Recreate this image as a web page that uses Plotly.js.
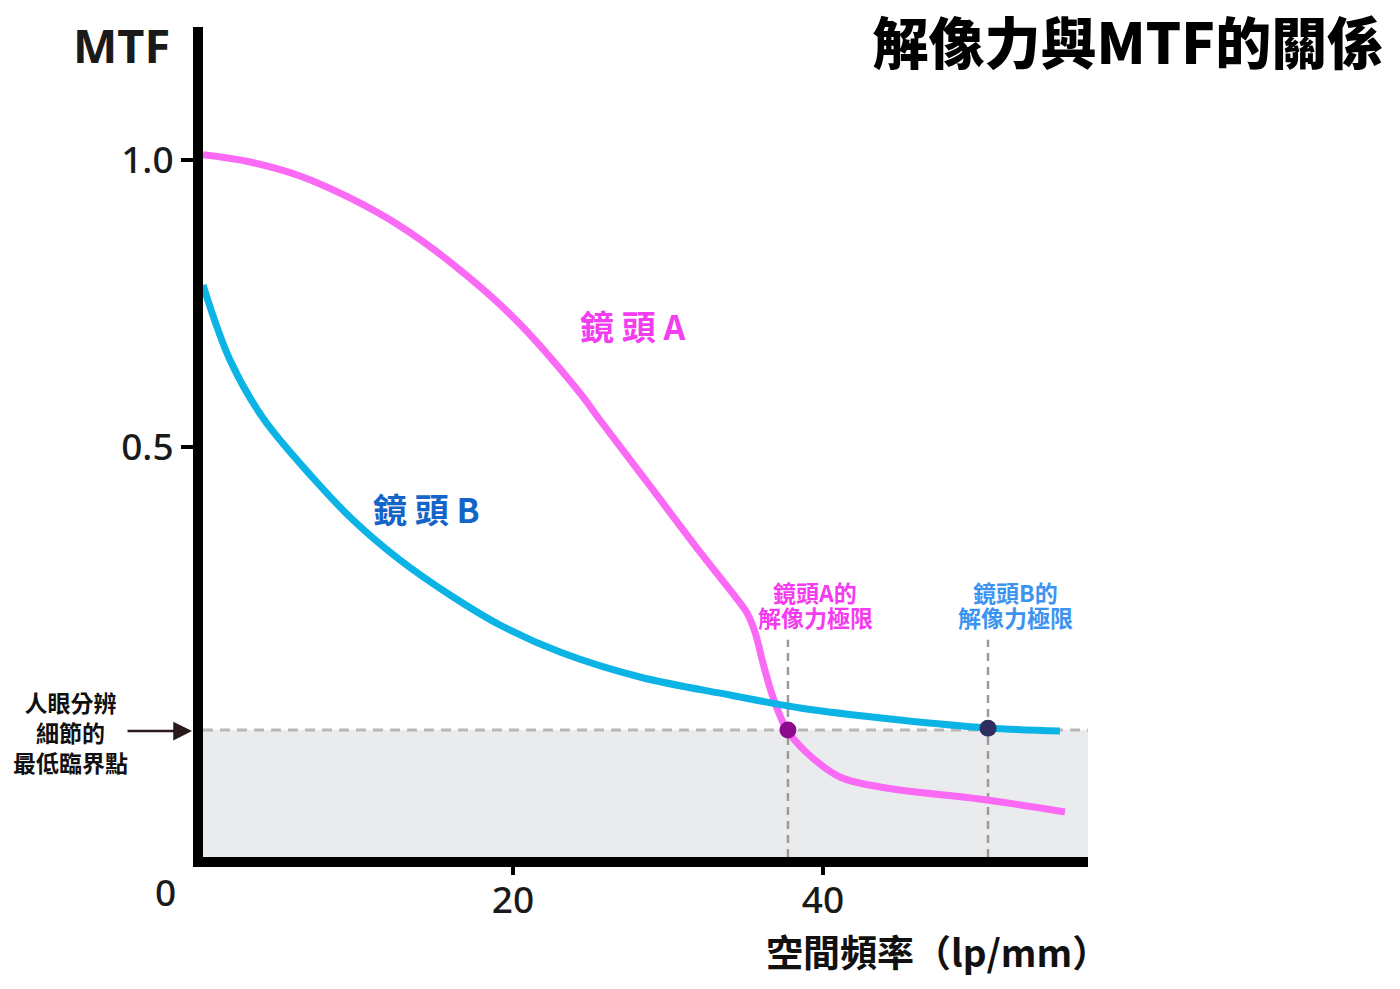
<!DOCTYPE html>
<html>
<head>
<meta charset="utf-8">
<script src="https://cdn.plot.ly/plotly-3.0.1.min.js"></script>
<style>
  body { margin: 0; background: #fff; }
  #chart { width: 1400px; height: 989px; }
</style>
</head>
<body>
<div id="chart"></div>
<script>
// values
const lensAFreq = [0, 3.03, 6.26, 9.48, 12.71, 15.94, 20.0, 24.32, 25.61, 28.84, 32.06, 34.0, 35.1, 35.61, 36.13, 36.77, 37.68, 38.97, 41.1, 43.68, 50.58, 55.61];
const lensAMtf = [1.009, 0.9965, 0.9721, 0.9338, 0.885, 0.8223, 0.7265, 0.5941, 0.547, 0.4321, 0.3171, 0.2509, 0.2108, 0.1777, 0.1237, 0.0645, 0.007, -0.0331, -0.0749, -0.0923, -0.115, -0.1359];

const lensBFreq = [0, 1.74, 3.87, 7.10, 9.68, 12.71, 15.94, 19.16, 23.03, 28.19, 34.0, 38.52, 44.97, 50.65, 55.29];
const lensBMtf = [0.7822, 0.6516, 0.5505, 0.446, 0.3728, 0.3031, 0.2422, 0.1899, 0.1429, 0.0993, 0.0679, 0.0453, 0.0244, 0.0105, 0.0052];

const threshold = 0.007;
const limitFreq = [37.74, 50.65];   // lens A, lens B
const limitTop = 0.164;

const xTicks = [20, 40];
const yTicks = [0.5, 1.0];
const yTickText = ["0.5", "1.0"];

const xRange = [0, 57.1];
const yRange = [-0.2143, 1.2317];

const cjk = "Noto Sans CJK TC, Noto Sans, sans-serif";
const num = "Noto Sans, Noto Sans CJK TC, sans-serif";

const traces = [
  {
    x: lensAFreq, y: lensAMtf,
    mode: "lines", type: "scatter",
    line: { color: "#fa6af5", width: 7, shape: "spline", smoothing: 1 },
    hoverinfo: "skip",
  },
  {
    x: lensBFreq, y: lensBMtf,
    mode: "lines", type: "scatter",
    line: { color: "#0cb4e6", width: 7, shape: "spline", smoothing: 1 },
    hoverinfo: "skip",
  },
  {
    x: limitFreq, y: [threshold, threshold + 0.003],
    mode: "markers", type: "scatter",
    marker: { size: 17, color: ["#8c0a8e", "#2e2f60"] },
    hoverinfo: "skip",
  },
];

const shapes = [
  // grey area under the threshold
  {
    type: "rect", xref: "paper", yref: "y", layer: "below",
    x0: 0, x1: 1, y0: yRange[0], y1: threshold,
    fillcolor: "#e9ebec", line: { width: 0 },
  },
  // threshold line
  {
    type: "line", xref: "paper", yref: "y", layer: "below",
    x0: 0, x1: 1, y0: threshold, y1: threshold,
    line: { color: "#b8b8b8", width: 3, dash: "10px,7px" },
  },
];
limitFreq.forEach((f) => {
  shapes.push({
    type: "line", xref: "x", yref: "y", layer: "below",
    x0: f, x1: f, y0: yRange[0], y1: limitTop,
    line: { color: "#9b9b9b", width: 2.5, dash: "8px,6px" },
  });
});

function label(text, x, y, size, color, yanchor) {
  return {
    text: text, xref: "x", yref: "y", x: x, y: y,
    xanchor: "center", yanchor: yanchor || "middle", showarrow: false,
    font: { family: cjk, size: size, color: color, weight: "bold" },
  };
}

const annotations = [
  {
    text: "MTF", xref: "paper", yref: "paper", x: 0, y: 0.978,
    xanchor: "right", yanchor: "middle", xshift: -31, showarrow: false,
    font: { family: num, size: 47, color: "#1a1a1a", weight: "bold" },
  },
  {
    text: "0", xref: "paper", yref: "paper", x: -0.0429, y: -0.0434,
    xanchor: "center", yanchor: "middle", yshift: 2, showarrow: false,
    font: { family: num, size: 37, color: "#1a1a1a", weight: 500 },
  },
  {
    text: "空間頻率（lp/mm）", xref: "paper", yref: "paper", x: 1, y: -0.1169,
    xanchor: "right", yanchor: "middle", xshift: 23, yshift: 3, showarrow: false,
    font: { family: cjk, size: 37, color: "#111111", weight: "bold" },
  },
  label("鏡 頭 A", 27.7, 0.7125, 34, "#f23ef0"),
  label("鏡 頭 B", 14.45, 0.392, 34, "#1565c8"),
  label("鏡頭A的", 39.5, 0.2474, 23, "#f53bf0"),
  label("解像力極限", 39.5, 0.2038, 23, "#f53bf0"),
  label("鏡頭B的", 52.45, 0.2474, 23, "#3d94f0"),
  label("解像力極限", 52.45, 0.2038, 23, "#3d94f0"),
  {
    text: "人眼分辨<br>細節的<br>最低臨界點", xref: "paper", yref: "paper",
    x: -0.150, y: (857 - 732) / 830,
    xanchor: "center", yanchor: "middle", showarrow: false,
    font: { family: cjk, size: 23, color: "#111111", weight: "bold" },
  },
  {
    text: " ", xref: "paper", yref: "paper", x: -0.0124, y: (857 - 731) / 830,
    ax: -66, ay: 0, showarrow: true, arrowhead: 2, arrowsize: 1.5,
    arrowwidth: 2.5, arrowcolor: "#2b1a1c", standoff: 0,
    font: { size: 1 },
  },
];

const layout = {
  width: 1400,
  height: 989,
  margin: { l: 203, r: 312, t: 27, b: 132 },
  paper_bgcolor: "#ffffff",
  plot_bgcolor: "#ffffff",
  showlegend: false,
  title: {
    text: "解像力與MTF的關係",
    xref: "container", yref: "container",
    x: 0.988, xanchor: "right", y: 0.955, yanchor: "middle",
    font: { family: cjk, size: 56, color: "#000000", weight: 900 },
  },
  xaxis: {
    range: xRange,
    showgrid: false, zeroline: false,
    showline: true, linecolor: "#000000", linewidth: 10,
    tickmode: "array", tickvals: xTicks,
    ticks: "outside", ticklen: 8, tickwidth: 4, tickcolor: "#000000",
    ticklabelstandoff: -6,
    tickfont: { family: num, size: 37, color: "#1a1a1a", weight: 500 },
    fixedrange: true,
  },
  yaxis: {
    range: yRange,
    showgrid: false, zeroline: false,
    showline: true, linecolor: "#000000", linewidth: 10,
    tickmode: "array", tickvals: yTicks, ticktext: yTickText,
    ticks: "outside", ticklen: 12, tickwidth: 4, tickcolor: "#000000",
    tickfont: { family: num, size: 37, color: "#1a1a1a", weight: 500 },
    fixedrange: true,
  },
  shapes: shapes,
  annotations: annotations,
};

Plotly.newPlot("chart", traces, layout, { displayModeBar: false, staticPlot: true });
</script>
</body>
</html>
